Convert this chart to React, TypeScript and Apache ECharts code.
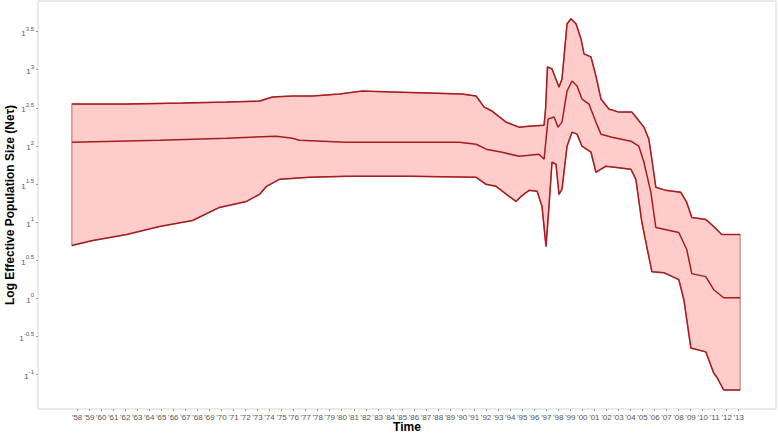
import React, { useEffect, useRef } from "react";
import * as echarts from "echarts";

// [year, log10 value]
const upperBound: [number, number][] = [
  [1957.56, 2.549], [1962.12, 2.549], [1966.77, 2.562], [1970.42, 2.575], [1973.16, 2.588],
  [1974.24, 2.641], [1975.9, 2.654], [1977.56, 2.654], [1979.8, 2.68], [1981.71, 2.72],
  [1984.2, 2.707], [1987.27, 2.693], [1990.01, 2.68], [1991.17, 2.654], [1991.84, 2.509],
  [1992.5, 2.457], [1993.66, 2.312], [1994.74, 2.246], [1995.57, 2.259], [1996.82, 2.272],
  [1996.95, 2.5], [1997.1, 3.036], [1997.48, 3.009], [1998.06, 2.772], [1998.31, 2.878],
  [1998.73, 3.601], [1999.06, 3.667], [1999.47, 3.601], [1999.89, 3.404], [2000.14, 3.207],
  [2000.72, 3.167], [2001.13, 2.917], [2001.55, 2.614], [2002.21, 2.483], [2003.04, 2.443],
  [2004.12, 2.443], [2004.45, 2.378], [2005.12, 2.246], [2005.53, 2.088], [2005.78, 1.825],
  [2006.11, 1.457], [2006.94, 1.417], [2008.19, 1.391], [2008.68, 1.259], [2009.1, 1.062],
  [2010.26, 1.036], [2010.92, 0.943], [2011.59, 0.838], [2013.12, 0.838],
];

const medianLine: [number, number][] = [
  [1957.56, 2.049], [1964.86, 2.075], [1970.42, 2.101], [1974.57, 2.128], [1975.9, 2.101],
  [1976.48, 2.075], [1980.38, 2.049], [1985.86, 2.049], [1989.76, 2.049], [1991.17, 2.022],
  [1992.0, 1.957], [1993.33, 1.917], [1994.74, 1.864], [1996.4, 1.891], [1996.82, 1.825],
  [1997.15, 2.351], [1997.65, 2.378], [1997.98, 2.246], [1998.31, 2.312], [1998.73, 2.72],
  [1999.14, 2.851], [1999.56, 2.786], [1999.97, 2.614], [2000.55, 2.549], [2001.13, 2.312],
  [2001.55, 2.154], [2002.46, 2.114], [2004.04, 2.062], [2004.7, 1.996], [2005.12, 1.786],
  [2005.7, 1.391], [2006.11, 0.93], [2008.02, 0.864], [2008.68, 0.641], [2009.1, 0.325],
  [2010.26, 0.286], [2010.92, 0.114], [2011.75, 0.009], [2013.12, 0.009],
];

const lowerBound: [number, number][] = [
  [1957.56, 0.693], [1959.3, 0.759], [1962.12, 0.838], [1964.86, 0.943], [1967.6, 1.022],
  [1969.84, 1.193], [1972.08, 1.272], [1973.16, 1.364], [1973.75, 1.47], [1974.82, 1.562],
  [1977.31, 1.588], [1980.38, 1.601], [1985.86, 1.601], [1991.17, 1.588], [1992.0, 1.496],
  [1992.83, 1.47], [1993.91, 1.338], [1994.49, 1.272], [1994.91, 1.338], [1995.57, 1.417],
  [1996.24, 1.404], [1996.65, 1.207], [1996.98, 0.68], [1997.23, 1.207], [1997.48, 1.786],
  [1997.81, 1.759], [1998.06, 1.364], [1998.31, 1.43], [1998.73, 1.996], [1999.14, 2.18],
  [1999.56, 2.154], [1999.97, 1.996], [2000.72, 1.917], [2001.13, 1.654], [2001.38, 1.68],
  [2001.96, 1.733], [2004.04, 1.693], [2004.45, 1.562], [2004.95, 0.996], [2005.78, 0.351],
  [2006.78, 0.338], [2008.02, 0.246], [2008.44, -0.017], [2009.02, -0.649], [2010.26, -0.701],
  [2010.92, -0.977], [2011.17, -1.03], [2011.75, -1.201], [2013.12, -1.201],
];

const yTickExponents = [-1, -0.5, 0, 0.5, 1, 1.5, 2, 2.5, 3, 3.5];
const xTickYears = Array.from({ length: 56 }, (_, i) => 1958 + i);

const LINE = "#a71d1d";
const FILL = "#ffcccc";
const FONT = "'Liberation Sans', Arial, sans-serif";

export default function App() {
  const ref = useRef<HTMLDivElement>(null);
  useEffect(() => {
    if (!ref.current) return;
    const chart = echarts.init(ref.current, null, { renderer: "svg" });
    chart.setOption({
      animation: false,
      backgroundColor: "#ffffff",
      grid: {
        left: 38,
        right: 2,
        top: 1,
        bottom: 25,
        outerBoundsMode: "none",
        containLabel: false,
        show: true,
        borderColor: "#d4d4d4",
        borderWidth: 1,
        backgroundColor: "transparent",
      },
      xAxis: {
        type: "value",
        min: 1954.75,
        max: 2016.1,
        name: "Time",
        nameLocation: "middle",
        nameGap: 12,
        nameMoveOverlap: false,
        nameTextStyle: { fontFamily: FONT, fontSize: 12, fontWeight: "bold", color: "#000", verticalAlign: "top" },
        axisLine: { show: false, onZero: false },
        splitLine: { show: false },
        axisTick: {
          show: true,
          length: 2,
          customValues: xTickYears,
          lineStyle: { color: "#999" },
        },
        axisLabel: {
          customValues: xTickYears,
          interval: 0,
          hideOverlap: false,
          margin: 4,
          fontFamily: FONT,
          fontSize: 8,
          color: "#555",
          formatter: (v: number) => "'" + String(Math.round(v)).slice(2),
        },
      },
      yAxis: {
        type: "value",
        min: -1.45,
        max: 3.9,
        name: "Log Effective Population Size (Neτ)",
        nameLocation: "middle",
        nameGap: 22,
        nameMoveOverlap: false,
        nameTextStyle: { fontFamily: FONT, fontSize: 12, fontWeight: "bold", color: "#000" },
        axisLine: { show: false, onZero: false },
        splitLine: { show: false },
        axisTick: {
          show: true,
          length: 2,
          customValues: yTickExponents,
          lineStyle: { color: "#999" },
        },
        axisLabel: {
          customValues: yTickExponents,
          margin: 4,
          fontFamily: FONT,
          color: "#555",
          formatter: (v: number) => `{b|1}{s|${String(v)}}`,
          rich: {
            b: { fontFamily: FONT, fontSize: 8, color: "#555", lineHeight: 12, verticalAlign: "bottom" },
            s: { fontFamily: FONT, fontSize: 6, color: "#555", lineHeight: 12, verticalAlign: "top" },
          },
        },
      },
      series: [
        {
          type: "custom",
          silent: true,
          data: [[1990, 0]],
          encode: { x: 0, y: 1 },
          z: 1,
          renderItem: (_params: any, api: any) => {
            const pts = upperBound
              .map((p) => api.coord(p))
              .concat(lowerBound.slice().reverse().map((p) => api.coord(p)));
            return {
              type: "polygon",
              shape: { points: pts },
              style: { fill: FILL, stroke: "rgba(175,40,40,0.55)", lineWidth: 1.2 },
            };
          },
        },
        {
          type: "line",
          data: upperBound,
          showSymbol: false,
          symbol: "none",
          z: 3,
          lineStyle: { color: LINE, width: 1.5 },
        },
        {
          type: "line",
          data: medianLine,
          showSymbol: false,
          symbol: "none",
          z: 3,
          lineStyle: { color: LINE, width: 1.5 },
        },
        {
          type: "line",
          data: lowerBound,
          showSymbol: false,
          symbol: "none",
          z: 3,
          lineStyle: { color: LINE, width: 1.5 },
        },
      ],
    });
    return () => chart.dispose();
  }, []);
  return <div ref={ref} style={{ width: 778, height: 434, position: "absolute", left: 0, top: 0 }} />;
}
